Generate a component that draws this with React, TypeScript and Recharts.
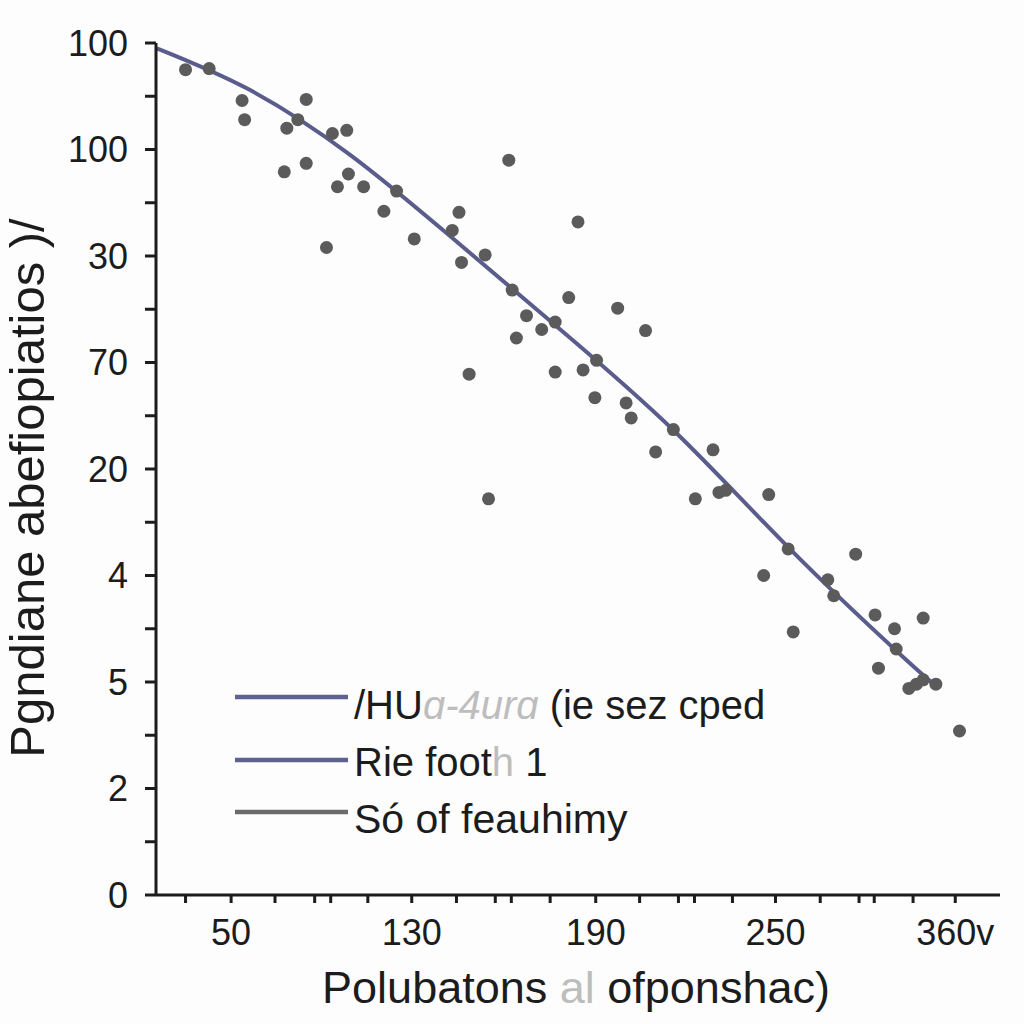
import { ComposedChart, Scatter, Line, XAxis, YAxis, Legend } from 'recharts';

// y axis: evenly spaced positions 0..8, labelled with these (bottom to top)
const yTickLabels = ['0', '2', '5', '4', '20', '70', '30', '100', '100'];
const yTicks = [0, 0.5, 1, 1.5, 2, 2.5, 3, 3.5, 4, 4.5, 5, 5.5, 6, 6.5, 7, 7.5, 8];

// x axis: irregular tick marks, only some carry a label
const xTicks = [3.5, 8.9, 14.1, 18.8, 20.7, 25.1, 30.3, 35.6, 40.2, 42.1, 46.7, 52.1, 57.3, 61.9, 63.8, 68.3, 73.4, 78.7, 83.3, 85.1, 89.7, 94.7];
const xLabelTicks = [8.9, 30.3, 52.1, 73.4, 94.7];
const xLabels = ['50', '130', '190', '250', '360v'];

// scatter observations
const pointX = [3.5, 6.3, 10.2, 10.5, 17.8, 15.5, 16.8, 15.2, 17.8, 20.9, 22.6, 21.5, 22.8, 24.6, 20.2, 27.0, 28.5, 30.6, 35.9, 35.1, 36.2, 39.0, 41.8, 42.2, 50.0, 48.9, 43.9, 42.7, 45.7, 47.3, 54.7, 58.0, 47.3, 50.6, 52.2, 52.0, 55.7, 56.3, 61.3, 59.2, 66.0, 63.9, 66.7, 72.6, 37.1, 39.4, 72.0, 74.9, 75.5, 79.6, 80.3, 82.9, 85.2, 87.5, 85.6, 87.7, 90.9, 89.2, 90.1, 90.9, 92.4, 95.2, 67.5];
const pointY = [7.75, 7.76, 7.46, 7.28, 7.47, 7.2, 7.28, 6.79, 6.87, 7.15, 7.18, 6.65, 6.77, 6.65, 6.08, 6.42, 6.61, 6.16, 6.41, 6.24, 5.94, 6.01, 6.9, 5.68, 6.32, 5.61, 5.44, 5.23, 5.31, 5.38, 5.51, 5.3, 4.91, 4.93, 5.02, 4.67, 4.62, 4.48, 4.37, 4.16, 4.18, 3.72, 3.78, 3.76, 4.89, 3.72, 3.0, 3.25, 2.47, 2.96, 2.81, 3.2, 2.63, 2.5, 2.13, 2.31, 2.6, 1.94, 1.98, 2.02, 1.98, 1.54, 3.8];

// fitted curve
const fitX = [0.1, 11.1, 23.0, 34.8, 47.9, 61.5, 75.1, 87.9, 92.3];
const fitY = [7.95, 7.56, 6.95, 6.19, 5.31, 4.35, 3.25, 2.28, 1.97];

const legendColors = ['#5f628f', '#5f628f', '#6c6c6c'];

const points = pointX.map((x, i) => ({ x, y: pointY[i] }));
const fit = fitX.map((x, i) => ({ x, y: fitY[i] }));

const FONT = '"Liberation Sans", Arial, Helvetica, sans-serif';
const INK = '#1c1c1c';
const FADED = '#bdbdbd';

function YTick(props: any) {
  const { x, y, payload } = props;
  const v = payload.value;
  if (!Number.isInteger(v)) return null;
  return (
    <text x={x} y={y} dy="0.36em" textAnchor="end" fontSize={36} fontFamily={FONT} fill={INK}>
      {yTickLabels[v]}
    </text>
  );
}

function XTick(props: any) {
  const { x, y, payload } = props;
  const idx = xLabelTicks.indexOf(payload.value);
  if (idx < 0) return null;
  return (
    <text x={x} y={y} dy={38} textAnchor="middle" fontSize={36} fontFamily={FONT} fill={INK}>
      {xLabels[idx]}
    </text>
  );
}

function renderLegend() {
  const rows = [0, 63, 115];
  return (
    <svg width={620} height={170} style={{ display: 'block' }}>
      {rows.map((dy, i) => (
        <line key={i} x1={5} x2={118} y1={25 + dy} y2={25 + dy} stroke={legendColors[i]} strokeWidth={4.5} />
      ))}
      <text x={124} y={47} fontSize={40} fontFamily={FONT} fill={INK}>
        /HU<tspan fill={FADED} fontStyle="italic">ɑ-4urɑ</tspan> (ie sez cped
      </text>
      <text x={124} y={47 + 57} fontSize={40} fontFamily={FONT} fill={INK}>
        Rie foot<tspan fill={FADED}>h</tspan> 1
      </text>
      <text x={124} y={47 + 114} fontSize={41} fontFamily={FONT} fill={INK}>
        Só of feauhimy
      </text>
    </svg>
  );
}

export default function App() {
  return (
    <div style={{ position: 'absolute', left: 0, top: 0, width: 1024, height: 1024, background: '#fdfdfd' }}>
      <ComposedChart width={1024} height={1024} margin={{ top: 43, right: 24, bottom: 0, left: 0 }}>
        <XAxis
          type="number"
          dataKey="x"
          domain={[0, 100]}
          ticks={xTicks}
          interval={0}
          height={129}
          stroke={INK}
          strokeWidth={3}
          tickSize={8}
          tickMargin={4}
          tick={<XTick />}
          allowDataOverflow
          label={{
            content: () => (
              <text x={576} y={1003} textAnchor="middle" fontSize={45} fontFamily={FONT} fill={INK}>
                Polubatons<tspan fill={FADED}> al </tspan>ofponshac)
              </text>
            ),
          }}
        />
        <YAxis
          type="number"
          dataKey="y"
          domain={[0, 8]}
          ticks={yTicks}
          interval={0}
          width={156}
          stroke={INK}
          strokeWidth={3}
          tickSize={11}
          tickMargin={17}
          tick={<YTick />}
          allowDataOverflow
          label={{
            content: () => (
              <text
                x={44}
                y={488}
                transform="rotate(-90 44 488)"
                textAnchor="middle"
                fontSize={49}
                fontFamily={FONT}
                fill={INK}
              >
                Pgndiane abefiopiatios )/
              </text>
            ),
          }}
        />
        <Legend
          layout="vertical"
          align="center"
          verticalAlign="middle"
          content={renderLegend}
          wrapperStyle={{ left: 230, top: 672, width: 620, height: 170 }}
        />
        <Scatter data={points} fill="#5b5b5b" shape={(p: any) => <circle cx={p.cx} cy={p.cy} r={6.5} fill="#5b5b5b" />} isAnimationActive={false} legendType="none" />
        <Line
          data={fit}
          dataKey="y"
          type="natural"
          stroke="#5a5d8c"
          strokeWidth={4}
          dot={false}
          activeDot={false}
          isAnimationActive={false}
          legendType="none"
        />
      </ComposedChart>
    </div>
  );
}
